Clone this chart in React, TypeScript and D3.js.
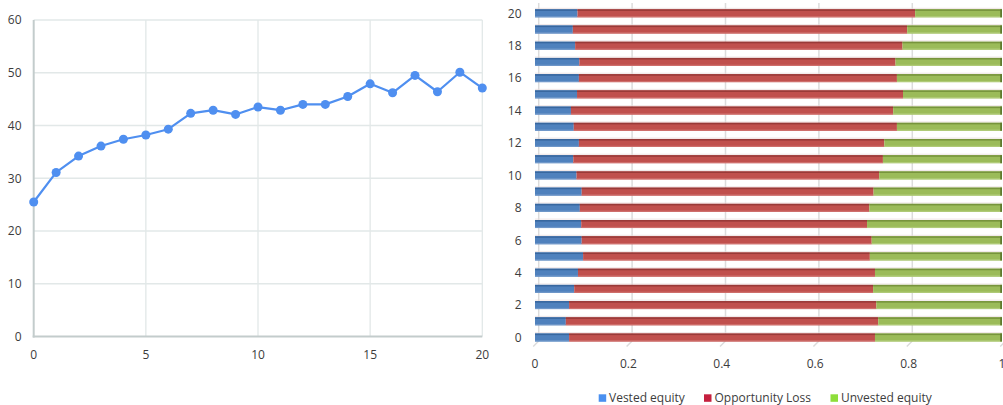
import React from "react";
import * as d3 from "d3";

const lineX: number[] = [0,1,2,3,4,5,6,7,8,9,10,11,12,13,14,15,16,17,18,19,20];
const lineY: number[] = [25.5,31.1,34.2,36.1,37.4,38.2,39.3,42.3,42.9,42.1,43.5,42.9,44.0,44.0,45.5,47.9,46.2,49.5,46.4,50.1,47.1];
const lineXTicks: number[] = [0,5,10,15,20];
const lineYTicks: number[] = [0,10,20,30,40,50,60];

const barCategories: number[] = [0,1,2,3,4,5,6,7,8,9,10,11,12,13,14,15,16,17,18,19,20];
const vestedEquity: number[] = [0.073,0.066,0.073,0.084,0.092,0.103,0.100,0.099,0.096,0.100,0.089,0.082,0.094,0.083,0.077,0.090,0.094,0.095,0.086,0.081,0.091];
const opportunityLoss: number[] = [0.655,0.669,0.658,0.640,0.636,0.614,0.621,0.612,0.620,0.625,0.648,0.663,0.654,0.692,0.690,0.698,0.681,0.677,0.701,0.716,0.723];
const unvestedEquity: number[] = [0.272,0.265,0.269,0.276,0.272,0.283,0.279,0.289,0.284,0.275,0.263,0.255,0.252,0.225,0.233,0.212,0.225,0.228,0.213,0.203,0.186];
const barXTicks: number[] = [0,0.2,0.4,0.6,0.8,1];
const barYTicks: number[] = [0,2,4,6,8,10,12,14,16,18,20];
const seriesNames: string[] = ["Vested equity","Opportunity Loss","Unvested equity"];

const FONT = "'Open Sans', 'Noto Sans', sans-serif";
const TXT = "#3c3c3c";

export default function App() {
  // Left line chart
  const lx = d3.scaleLinear().domain([0, 20]).range([33.7, 482.3]);
  const ly = d3.scaleLinear().domain([0, 60]).range([336.5, 20]);
  const linePath = d3.line<number>().x((_, i) => lx(lineX[i])).y((d) => ly(d))(lineY) || "";

  // Right stacked bar chart
  const bx = d3.scaleLinear().domain([0, 1]).range([535, 1002]);
  const by = d3.scaleLinear().domain([0, 20]).range([337.5, 13.3]);
  const barH = 8;
  const segs = [
    { vals: vestedEquity, fill: "#4f81bd", top: "#38679f", bot: "#6f97c9" },
    { vals: opportunityLoss, fill: "#c0504d", top: "#993a38", bot: "#cf6f6c" },
    { vals: unvestedEquity, fill: "#9bbb59", top: "#77943c", bot: "#b0cb78" },
  ];
  const legendColors = ["#4a90f0", "#c5203e", "#8ede3a"];
  const legendPos = [{ sq: 598.7, tx: 609 }, { sq: 704, tx: 714.5 }, { sq: 830.5, tx: 841 }];

  return (
    <svg width={1003} height={405} style={{ position: "absolute", left: 0, top: 0, background: "#fff" }} fontFamily={FONT}>
      {/* LEFT CHART */}
      <g>
        {lineYTicks.filter((t) => t > 0).map((t) => (
          <line key={"gy" + t} x1={lx(0)} x2={lx(20)} y1={ly(t)} y2={ly(t)} stroke="#e2e8e8" strokeWidth={1.3} />
        ))}
        {lineXTicks.filter((t) => t > 0).map((t) => (
          <line key={"gx" + t} x1={lx(t)} x2={lx(t)} y1={ly(60)} y2={ly(0)} stroke="#e2e8e8" strokeWidth={1.3} />
        ))}
        <line x1={lx(0)} x2={lx(0)} y1={ly(60)} y2={ly(0) + 1} stroke="#c3cccc" strokeWidth={2} />
        <line x1={lx(0) - 1} x2={lx(20)} y1={ly(0)} y2={ly(0)} stroke="#c3cccc" strokeWidth={2} />
        {lineYTicks.map((t) => (
          <text key={"ly" + t} x={21.5} y={ly(t) + 4.3} textAnchor="end" fontSize={12} fill={TXT}>{t}</text>
        ))}
        {lineXTicks.map((t) => (
          <text key={"lx" + t} x={lx(t)} y={358.5} textAnchor="middle" fontSize={12} fill={TXT}>{t}</text>
        ))}
        <path d={linePath} fill="none" stroke="#4f8ff0" strokeWidth={2.2} strokeLinejoin="round" />
        {lineY.map((v, i) => (
          <circle key={"pt" + i} cx={lx(lineX[i])} cy={ly(v)} r={4.5} fill="#4f8ff0" />
        ))}
      </g>

      {/* RIGHT CHART */}
      <g>
        {barXTicks.map((t) => {
          const x = bx(t) + 3.7;
          return (
            <g key={"bg" + t}>
              <line x1={x} x2={x} y1={3} y2={341} stroke="#dcdcdc" strokeWidth={1.5} />
              <line x1={x} x2={x - 5.5} y1={341} y2={346.5} stroke="#dcdcdc" strokeWidth={1.5} />
            </g>
          );
        })}
        {barCategories.map((c, i) => {
          let acc = 0;
          const yc = by(c);
          return (
            <g key={"bar" + c}>
              <rect x={bx(0)} y={yc - barH / 2 - 1.5} width={bx(1) - bx(0)} height={1.2} fill="#e8dada" opacity={0.6} />
              {segs.map((s, k) => {
                const x0 = bx(acc);
                acc += s.vals[i];
                const x1 = k === 2 ? bx(1) : bx(acc);
                return (
                  <g key={k}>
                    <rect x={x0} y={yc - barH / 2} width={x1 - x0} height={barH} fill={s.fill} />
                    <rect x={x0} y={yc - barH / 2} width={x1 - x0} height={1.6} fill={s.top} />
                    <rect x={x0} y={yc + barH / 2 - 1.2} width={x1 - x0} height={1.2} fill={s.bot} />
                    {k === 2 && <rect x={x1 - 1.8} y={yc - barH / 2} width={1.8} height={barH} fill="#5f7a2e" />}
                  </g>
                );
              })}
            </g>
          );
        })}
        {barYTicks.map((t) => (
          <text key={"by" + t} x={521.5} y={by(t) + 4.3} textAnchor="end" fontSize={12} fill={TXT}>{t}</text>
        ))}
        {barXTicks.map((t) => (
          <text key={"bx" + t} x={bx(t)} y={368} textAnchor="middle" fontSize={12} fill={TXT}>{t}</text>
        ))}
        {seriesNames.map((n, k) => (
          <g key={"lg" + k}>
            <rect x={legendPos[k].sq} y={394.3} width={7.5} height={7.5} fill={legendColors[k]} />
            <text x={legendPos[k].tx} y={402} fontSize={12} fill={TXT}>{n}</text>
          </g>
        ))}
      </g>
    </svg>
  );
}
